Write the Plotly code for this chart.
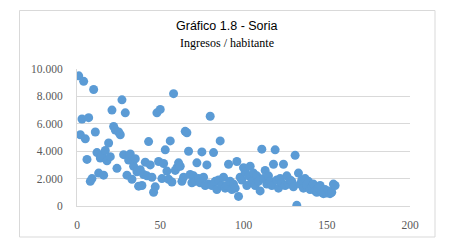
import plotly.graph_objects as go

x_vals = [1, 2, 3, 4, 5, 6, 7, 8, 9, 10, 11, 12, 13, 14, 15, 16, 17, 18, 19, 20,
          21, 22, 23, 24, 25, 26, 27, 28, 29, 30, 31, 32, 33, 34, 35, 36, 37, 38, 39, 40,
          41, 42, 43, 44, 45, 46, 47, 48, 49, 50, 51, 52, 53, 54, 55, 56, 57, 58, 59, 60,
          61, 62, 63, 64, 65, 66, 67, 68, 69, 70, 71, 72, 73, 74, 75, 76, 77, 78, 79, 80,
          81, 82, 83, 84, 85, 86, 87, 88, 89, 90, 91, 92, 93, 94, 95, 96, 97, 98, 99, 100,
          101, 102, 103, 104, 105, 106, 107, 108, 109, 110, 111, 112, 113, 114, 115, 116, 117, 118, 119, 120,
          121, 122, 123, 124, 125, 126, 127, 128, 129, 130, 131, 132, 133, 134, 135, 136, 137, 138, 139, 140,
          141, 142, 143, 144, 145, 146, 147, 148, 149, 150, 151, 152, 153, 154, 155]
y_vals = [9500, 5200, 6350, 9100, 4900, 3400, 6450, 1800, 2000, 8500,
          5400, 3900, 2400, 3500, 3700, 2250, 4050, 3300, 4600, 3600,
          7000, 5800, 5550, 2750, 5400, 5200, 7750, 3750, 6800, 2250,
          3350, 3800, 1950, 2900, 3450, 2500, 1450, 2650, 1500, 2300,
          3200, 2200, 4700, 3000, 2100, 1000, 1400, 6800, 3250, 7050,
          2000, 3100, 4100, 2550, 1950, 4750, 1750, 8200, 2600, 2800,
          3150, 2900, 1800, 2100, 5450, 5350, 4000, 2300, 1700, 2200,
          1800, 3150, 2000, 1700, 3950, 2100, 1500, 3000, 1600, 6550,
          1500, 3900, 1800, 1200, 1900, 4750, 1500, 2100, 1300, 1500,
          3050, 1800, 1200, 1600, 1300, 3250, 700, 2100, 1900, 2800,
          2500, 1500, 2200, 2900, 1800, 2400, 1500, 2200, 1800, 1100,
          4150, 2000, 2600, 1600, 2200, 1800, 1500, 3050, 4100, 1900,
          1300, 2000, 1700, 3050, 1500, 2200, 1600, 1900, 1800, 1400,
          3700, 50, 2400, 1600, 1900, 1300, 2000, 1500, 1800, 1200,
          1400, 1600, 1100, 1000, 1300, 1500, 1000, 900, 1200, 950,
          1100, 900, 1000, 1600, 1500]

x_ticks = [0, 50, 100, 150, 200]
y_ticks = [0, 2000, 4000, 6000, 8000, 10000]

fig = go.Figure()
fig.add_trace(go.Scatter(
    x=x_vals, y=y_vals, mode="markers",
    marker=dict(color="#5B9BD5", size=9, line=dict(width=0)),
    showlegend=False, hoverinfo="skip"))

grid = "#D9D9D9"
tickfont = dict(family="Liberation Serif", size=11.5, color="#595959")
fig.update_layout(
    width=449, height=248,
    margin=dict(l=77, r=39, t=69, b=42),
    paper_bgcolor="white", plot_bgcolor="white",
    separators=",.",
    title=dict(text="Gráfico 1.8 - Soria", x=0.505, xanchor="center", y=0.895, yanchor="middle",
               font=dict(family="Liberation Sans Narrow, Arial Narrow, Liberation Sans", size=12.5, color="#000000")),
    xaxis=dict(range=[0, 200], tickvals=x_ticks, showgrid=False, zeroline=False,
               showline=True, linecolor=grid, linewidth=1, ticks="", tickfont=tickfont,
               ticklabelstandoff=8),
    yaxis=dict(range=[0, 10000], tickvals=y_ticks, tickformat=",d", showgrid=True, gridcolor=grid,
               gridwidth=1, zeroline=False, showline=True, linecolor=grid, linewidth=1,
               ticks="", tickfont=tickfont, ticklabelstandoff=11),
    annotations=[dict(text="Ingresos / habitante", xref="paper", yref="paper",
                      x=(227 - 77) / 333, y=(206 - 43) / 137, xanchor="center", yanchor="middle",
                      showarrow=False,
                      font=dict(family="Liberation Serif", size=12, color="#000000"))],
    shapes=[dict(type="rect", xref="paper", yref="paper",
                 x0=(19.5 - 77) / 333, x1=(435 - 77) / 333,
                 y0=(206 - 237) / 137, y1=(206 - 10.5) / 137,
                 line=dict(color="#D9D9D9", width=1), fillcolor="rgba(0,0,0,0)", layer="below")],
)

fig.write_html("out.html")
